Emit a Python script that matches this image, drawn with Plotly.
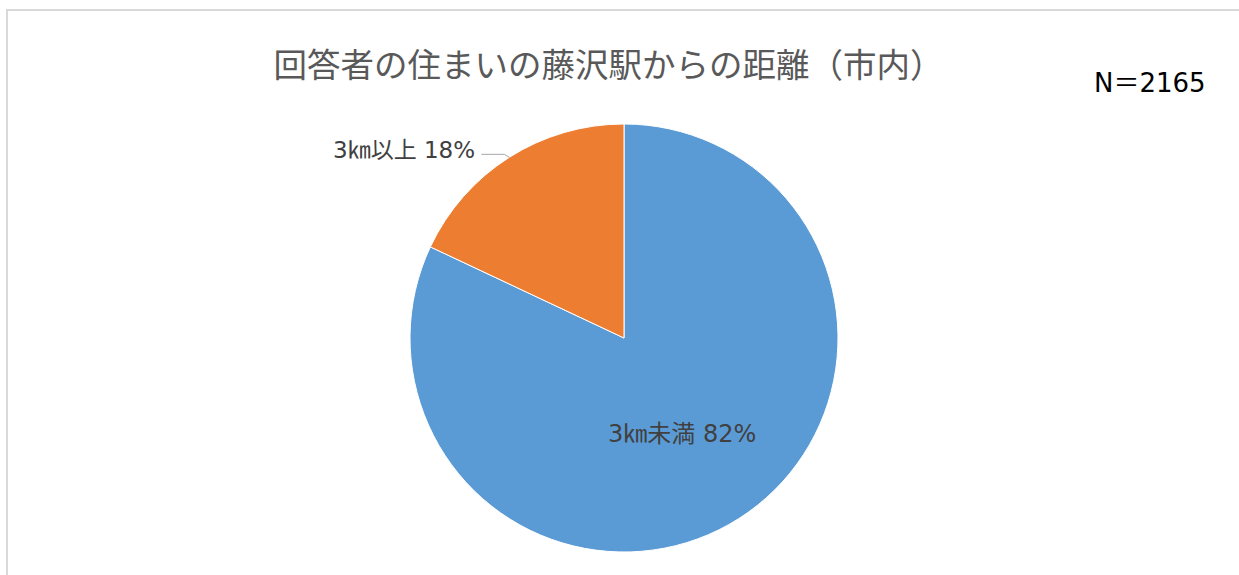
import math
import plotly.graph_objects as go

# ---- data ----
labels = ["3㎞未満", "3㎞以上"]
values = [82, 18]
colors = ["#5B9BD5", "#ED7D31"]
title_text = "回答者の住まいの藤沢駅からの距離（市内）"
n_text = "N＝2165"

W, H = 1239, 575
CX, CY, R = 624, 338, 214  # pie centre / radius in px
LABEL_FONT = "DejaVu Sans, Noto Sans CJK JP"


def px(x):
    return x / W


def py(y):
    return 1 - y / H


fig = go.Figure()
fig.add_trace(go.Pie(
    labels=labels, values=values, sort=False, direction="clockwise", rotation=0,
    marker=dict(colors=colors, line=dict(color="white", width=1)),
    textinfo="none", hoverinfo="label+percent", showlegend=False,
    domain=dict(x=[px(CX - R), px(CX + R)], y=[py(CY + R), py(CY - R)]),
))

# slice label positions derived from the data
total = sum(values)
start = 0.0
annotations = []
for i, (lab, v) in enumerate(zip(labels, values)):
    frac = v / total
    mid = (start + frac / 2) * 2 * math.pi  # clockwise from 12 o'clock
    start += frac
    pct = f"{round(frac * 100)}%"
    text = f"{lab} {pct}"
    if i == 0:
        r = 0.53 * R
        x = CX + r * math.sin(mid) - 3
        y = CY - r * math.cos(mid)
        annotations.append(dict(x=px(x), y=py(y), xref="paper", yref="paper",
                                text=text, showarrow=False,
                                xanchor="center", yanchor="middle",
                                font=dict(size=24, color="#404040", family=LABEL_FONT)))
    else:
        ex = CX + R * math.sin(mid)
        ey = CY - R * math.cos(mid)
        lx = ex - 28
        fig.add_shape(type="path",
                      path=f"M {px(ex)} {py(ey)} L {px(ex - 5)} {py(ey - 3)} L {px(lx)} {py(ey - 3)}",
                      xref="paper", yref="paper",
                      line=dict(color="#A6A6A6", width=1))
        annotations.append(dict(x=px(lx - 4), y=py(ey - 7), xref="paper", yref="paper",
                                text=text, showarrow=False,
                                xanchor="right", yanchor="middle",
                                font=dict(size=23, color="#404040", family=LABEL_FONT)))

annotations.append(dict(x=px(1149.5), y=py(83), xref="paper", yref="paper",
                        text=n_text, showarrow=False,
                        xanchor="center", yanchor="middle",
                        font=dict(size=26, color="#000000", family=LABEL_FONT)))

# chart-area frame (only top and left edges are inside the picture)
fig.add_shape(type="path", xref="paper", yref="paper",
              path=f"M {px(7)} {py(600)} L {px(7)} {py(10)} L {px(1300)} {py(10)}",
              line=dict(color="#D9D9D9", width=2))

fig.update_layout(
    width=W, height=H,
    margin=dict(l=0, r=0, t=0, b=0),
    paper_bgcolor="white", plot_bgcolor="white",
    title=dict(text=title_text, x=px(608.5), xanchor="center",
               y=py(65), yanchor="middle", yref="container",
               font=dict(size=33.5, color="#595959", family="Noto Sans CJK JP")),
    annotations=annotations,
)

fig.write_html("out.html", config={"displayModeBar": False},
               post_script="document.body.style.margin='0';")
